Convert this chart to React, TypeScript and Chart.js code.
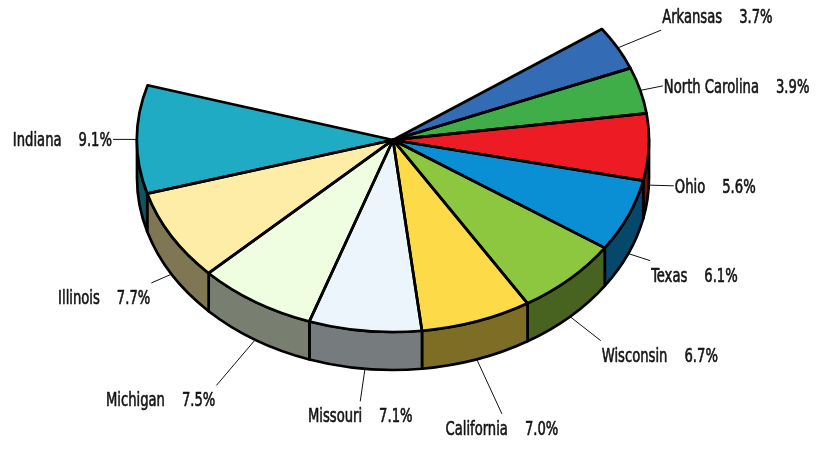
import { useEffect, useRef } from 'react';
import { Chart, registerables } from 'chart.js';

Chart.register(...registerables);

// ---- data ----
const states = ['Arkansas', 'North Carolina', 'Ohio', 'Texas', 'Wisconsin', 'California', 'Missouri', 'Michigan', 'Illinois', 'Indiana'];
const shares = [3.7, 3.9, 5.6, 6.1, 6.7, 7.0, 7.1, 7.5, 7.7, 9.1];
const shareLabels = shares.map((v) => v.toFixed(1) + '%');

// ---- styles ----
const topColors = ['#336cb4', '#3fae49', '#ed1c24', '#0a8fd5', '#8dc63f', '#fcda48', '#ecf5fc', '#effde1', '#fdeda6', '#20abc4'];
const sideColors = ['#1a3660', '#205726', '#760e12', '#05486b', '#47631f', '#7e6d24', '#767b7e', '#787f71', '#7f7753', '#105662'];
const leaderLengths = [47, 23, 25, 23, 39, 60, 33, 60, 22, 24];

const TILT = 0.75;
const DEPTH = 38;
const FONT = "19px 'DejaVu Sans Condensed', 'Liberation Sans Narrow', 'Noto Sans', sans-serif";
const TEXT_SQUEEZE = 0.77;
const LABEL_GAP = 17;
const EDGE_W = 2.7;

const pie3d = {
  id: 'pie3d',
  beforeDatasetsDraw(chart: any) {
    const ctx: CanvasRenderingContext2D = chart.ctx;
    const arcs = chart.getDatasetMeta(0).data;
    // side walls (front half only)
    arcs.forEach((arc: any, i: number) => {
      const { x, y, startAngle, endAngle, outerRadius: r } = arc;
      for (const off of [-2 * Math.PI, 0, 2 * Math.PI]) {
        const a = Math.max(startAngle, off);
        const b = Math.min(endAngle, Math.PI + off);
        if (b <= a) continue;
        ctx.save();
        ctx.beginPath();
        ctx.ellipse(x, y, r, r * TILT, 0, a, b);
        ctx.lineTo(x + r * Math.cos(b), y + r * TILT * Math.sin(b) + DEPTH);
        ctx.ellipse(x, y + DEPTH, r, r * TILT, 0, b, a, true);
        ctx.closePath();
        ctx.fillStyle = sideColors[i];
        ctx.fill();
        ctx.lineWidth = EDGE_W;
        ctx.lineJoin = 'round';
        ctx.strokeStyle = '#000';
        ctx.stroke();
        ctx.restore();
      }
    });
    const a0 = arcs[0];
    ctx.save();
    ctx.translate(a0.x, a0.y);
    ctx.scale(1, TILT);
    ctx.translate(-a0.x, -a0.y);
  },
  afterDatasetsDraw(chart: any) {
    const ctx: CanvasRenderingContext2D = chart.ctx;
    ctx.restore();
    const arcs = chart.getDatasetMeta(0).data;
    // outlines of the top faces
    arcs.forEach((arc: any) => {
      const { x, y, startAngle, endAngle, outerRadius: r } = arc;
      ctx.save();
      ctx.beginPath();
      ctx.moveTo(x, y);
      ctx.ellipse(x, y, r, r * TILT, 0, startAngle, endAngle);
      ctx.closePath();
      ctx.lineWidth = EDGE_W;
      ctx.lineJoin = 'round';
      ctx.strokeStyle = '#000';
      ctx.stroke();
      ctx.restore();
    });
    // labels with leader lines
    ctx.save();
    ctx.font = FONT;
    ctx.fillStyle = '#151515';
    ctx.textBaseline = 'alphabetic';
    ctx.textAlign = 'left';
    const capH = ctx.measureText('A').actualBoundingBoxAscent || 14;
    arcs.forEach((arc: any, i: number) => {
      const { x, y, startAngle, endAngle, outerRadius: r } = arc;
      const m = (startAngle + endAngle) / 2;
      const c = Math.cos(m);
      const s = Math.sin(m);
      const px = x + r * c;
      const py = y + r * TILT * s + (s > 0 ? DEPTH : 0);
      const dl = Math.hypot(c, TILT * s);
      const L = leaderLengths[i];
      const ex = px + (L * c) / dl;
      const ey = py + (L * TILT * s) / dl;
      ctx.beginPath();
      ctx.moveTo(px, py);
      ctx.lineTo(ex, ey);
      ctx.lineWidth = 1;
      ctx.strokeStyle = '#111';
      ctx.stroke();

      const nameW = ctx.measureText(states[i]).width * TEXT_SQUEEZE;
      const valW = ctx.measureText(shareLabels[i]).width * TEXT_SQUEEZE;
      const w = nameW + LABEL_GAP + valW;
      let left: number;
      if (Math.abs(c) < 0.4) left = ex - w / 2;
      else if (c > 0) left = ex + 1;
      else left = ex - w - 1;
      let base: number;
      if (s >= 0.3) base = ey + 7 + capH;
      else if (s <= -0.3) base = ey - 7;
      else base = ey + capH / 2;
      ctx.save();
      ctx.translate(left, base);
      ctx.scale(TEXT_SQUEEZE, 1);
      ctx.strokeStyle = '#151515';
      ctx.lineWidth = 0.6;
      ctx.lineJoin = 'round';
      const vx = (nameW + LABEL_GAP) / TEXT_SQUEEZE;
      ctx.fillText(states[i], 0, 0);
      ctx.strokeText(states[i], 0, 0);
      ctx.fillText(shareLabels[i], vx, 0);
      ctx.strokeText(shareLabels[i], vx, 0);
      ctx.restore();
    });
    ctx.restore();
  },
};

export default function App() {
  const canvasRef = useRef<HTMLCanvasElement | null>(null);

  useEffect(() => {
    document.body.style.margin = '0';
    const canvas = canvasRef.current;
    if (!canvas) return;
    const total = shares.reduce((a, b) => a + b, 0);
    const chart = new Chart(canvas, {
      type: 'pie',
      data: {
        labels: states,
        datasets: [
          {
            data: shares,
            backgroundColor: topColors,
            borderWidth: 0,
            radius: 256,
          } as any,
        ],
      },
      options: {
        responsive: false,
        animation: false,
        devicePixelRatio: 1,
        events: [],
        rotation: 54.7,
        circumference: total * 3.6,
        layout: { padding: { left: 0, right: 35, top: 0, bottom: 61 } },
        plugins: {
          legend: { display: false },
          tooltip: { enabled: false },
          title: { display: false },
        },
      } as any,
      plugins: [pie3d],
    });
    return () => chart.destroy();
  }, []);

  return (
    <div style={{ width: 821, height: 449, background: '#fff' }}>
      <canvas ref={canvasRef} width={821} height={449} style={{ display: 'block' }} />
    </div>
  );
}
